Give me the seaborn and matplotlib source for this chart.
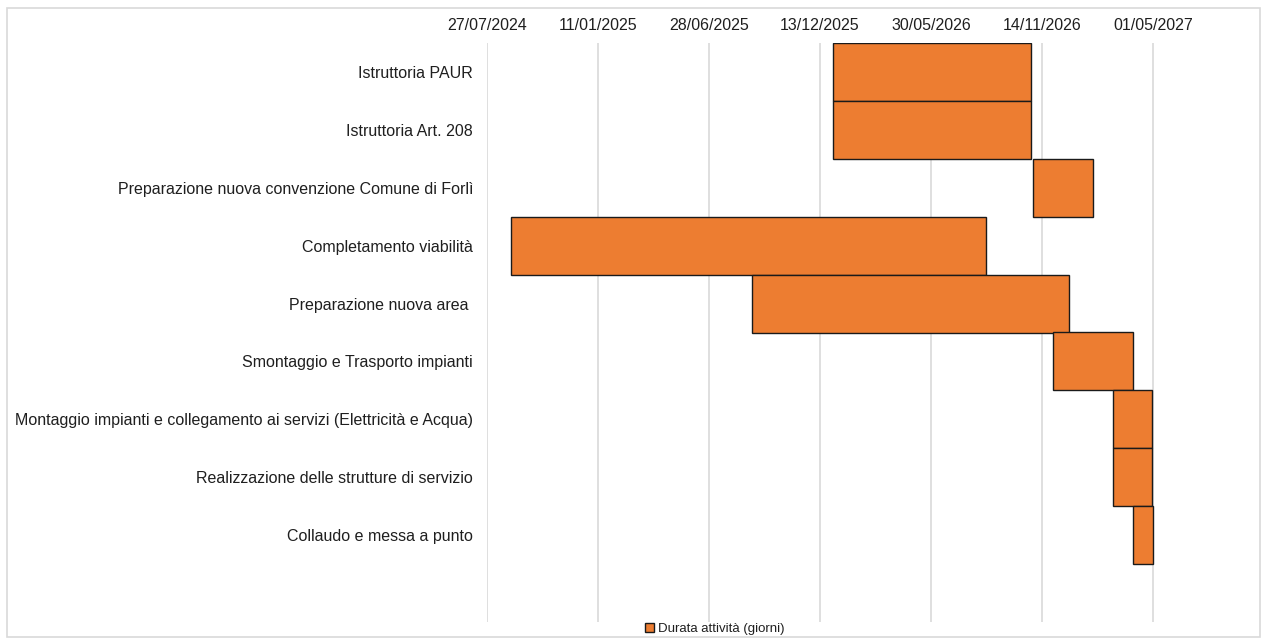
import matplotlib
matplotlib.use("Agg")
import matplotlib.pyplot as plt
import matplotlib.dates as mdates
from matplotlib.patches import Patch, Rectangle
import seaborn as sns
import pandas as pd

tasks = [
    "Istruttoria PAUR",
    "Istruttoria Art. 208",
    "Preparazione nuova convenzione Comune di Forlì",
    "Completamento viabilità",
    "Preparazione nuova area ",
    "Smontaggio e Trasporto impianti",
    "Montaggio impianti e collegamento ai servizi (Elettricità e Acqua)",
    "Realizzazione delle strutture di servizio",
    "Collaudo e messa a punto",
]
start_dates = [
    "2026-01-01", "2026-01-01", "2026-11-01", "2024-09-01", "2025-09-01",
    "2026-12-01", "2027-03-01", "2027-03-01", "2027-04-01",
]
durations = [300, 300, 90, 720, 480, 120, 60, 60, 30]
tick_dates = ["2024-07-27", "2025-01-11", "2025-06-28", "2025-12-13",
              "2026-05-30", "2026-11-14", "2027-05-01"]
series_name = "Durata attività (giorni)"

sns.set_theme(style="white")
plt.rcParams["font.family"] = ["Liberation Sans", "DejaVu Sans"]

W, H = 1263, 638
fig = plt.figure(figsize=(W / 100, H / 100), dpi=100)
ax = fig.add_axes([487 / W, 1 - 622 / H, (1262 - 487) / W, (622 - 43) / H])

df = pd.DataFrame({"task": tasks, "start": pd.to_datetime(start_dates), "dur": durations})
orange = "#ED7D31"
sns.barplot(data=df, x="dur", y="task", orient="h", width=1.0, color=orange,
            saturation=1, edgecolor="#1a1a1a", linewidth=1.0, ax=ax, zorder=3)

starts_num = mdates.date2num(df["start"])
for bar, s in zip(ax.containers[0], starts_num):
    bar.set_x(s)

x0 = mdates.date2num(pd.Timestamp(tick_dates[0]))
ax.set_xlim(x0, x0 + 1173)
ax.set_ylim(9.5, -0.5)

tnum = mdates.date2num(pd.to_datetime(tick_dates))
ax.set_xticks(tnum)
ax.set_xticklabels([pd.Timestamp(t).strftime("%d/%m/%Y") for t in tick_dates])
ax.xaxis.tick_top()
ax.tick_params(axis="x", length=0, pad=7, labelsize=11.5, colors="#1f1f1f",
               top=True, labeltop=True, bottom=False, labelbottom=False)
ax.tick_params(axis="y", length=0, pad=10, labelsize=11.5, colors="#1f1f1f")
ax.set_xlabel("")
ax.set_ylabel("")
ax.grid(axis="x", color="#d9d9d9", linewidth=1.2, zorder=0)
ax.grid(axis="y", visible=False)
ax.set_axisbelow(True)
for sp in ax.spines.values():
    sp.set_visible(False)

handle = Patch(facecolor=orange, edgecolor="#1a1a1a", linewidth=1.0, label=series_name)
fig.legend(handles=[handle], loc="center", bbox_to_anchor=(715 / W, 1 - 629 / H),
           frameon=False, fontsize=9.5, handlelength=0.7, handleheight=0.7,
           handletextpad=0.3, borderpad=0, labelcolor="#1f1f1f")

fig.add_artist(Rectangle((7 / W, 1 - 637 / H), (1260 - 7) / W, (637 - 8) / H,
                         transform=fig.transFigure, fill=False,
                         edgecolor="#d9d9d9", linewidth=1.2))

fig.savefig("out.png", dpi=100)
